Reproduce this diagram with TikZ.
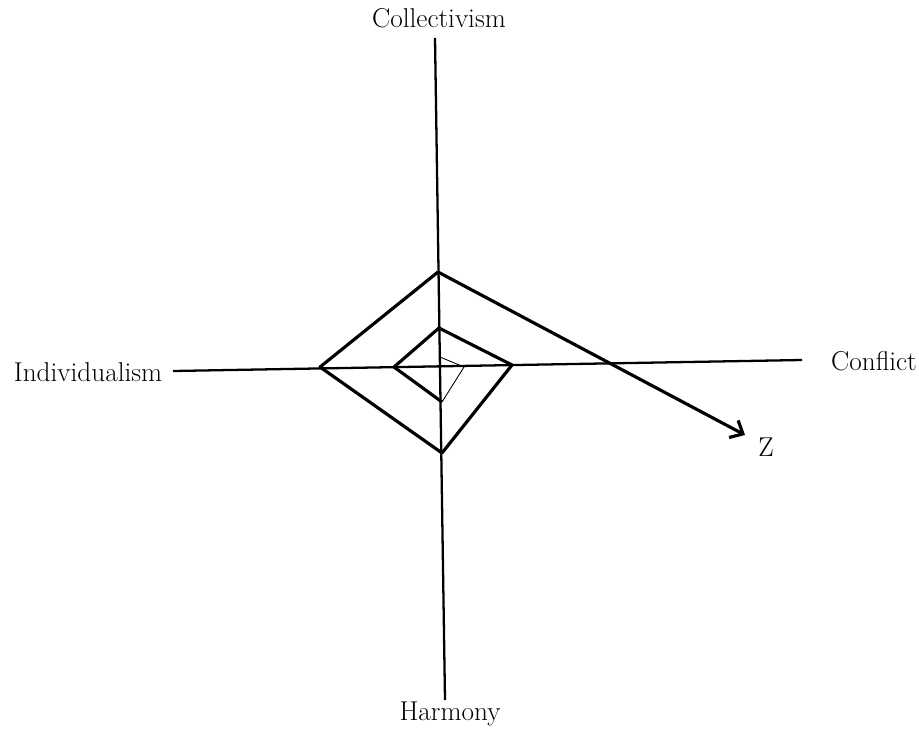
\documentclass[tikz,border=0pt]{standalone}
\usepackage{tikz}
\usetikzlibrary{arrows.meta}

\begin{document}
\begin{tikzpicture}[x=0.02cm, y=-0.02cm, every node/.style={font=\fontsize{15.5}{18}\selectfont, inner sep=1pt}, axis/.style={line width=1.3pt}, thin spiral/.style={line width=0.5pt}, thick spiral/.style={line width=1.8pt, line join=round}]
\useasboundingbox (0,0) rectangle (919,734);
% axes
\node (coll) at (439,18) {Collectivism};
\node (harm) at (450,714) {Harmony};
\node (indiv) at (88,372) {Individualism};
\node (confl) at (874,361) {Conflict};
\node (z) at (766,447) {Z};
\coordinate (top) at (435,38); \coordinate (bot) at (445,700);
\coordinate (left) at (173,371); \coordinate (right) at (802,360);
\draw[axis] (top) -- (bot);
\draw[axis] (left) -- (right);
% spiral, from the centre outwards
\coordinate (s0) at (440,357); \coordinate (s1) at (464,367); \coordinate (s2) at (442,402);
\coordinate (s3) at (394,367); \coordinate (s4) at (439,328); \coordinate (s5) at (512,365);
\coordinate (s6) at (442,453); \coordinate (s7) at (320,367); \coordinate (s8) at (438,272);
\coordinate (zend) at (745,435);
\draw[thin spiral] (s0) -- (s1) -- (s2);
\draw[thick spiral] (s2) -- (s3) -- (s4) -- (s5) -- (s6) -- (s7) -- (s8);
\draw[thick spiral, -{Straight Barb[length=6pt, width=11pt]}] (s8) -- (zend);
\end{tikzpicture}
\end{document}
